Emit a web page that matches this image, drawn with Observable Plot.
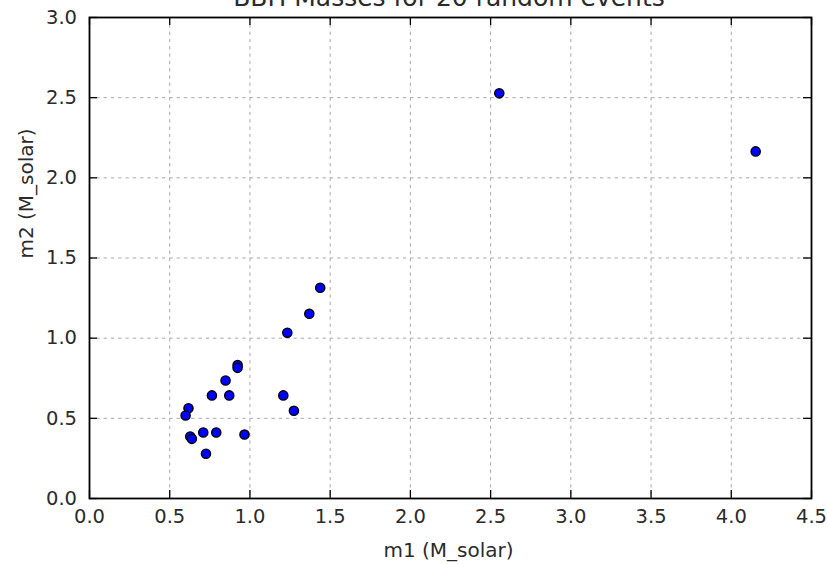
<!DOCTYPE html>
<html>
<head>
<meta charset="utf-8">
<script src="https://cdn.jsdelivr.net/npm/d3@7"></script>
<script src="https://cdn.jsdelivr.net/npm/@observablehq/plot@0.6"></script>
<style>
  html, body { margin: 0; padding: 0; background: #fff; }
  #chart svg { display: block; overflow: visible; }
</style>
</head>
<body>
<div id="chart"></div>
<script>
// Component masses (solar masses) of 20 simulated binary black hole events
const m1 = [2.554, 4.152, 1.438, 1.370, 1.233, 0.923, 0.923, 0.848, 0.763, 0.871,
            1.208, 1.274, 0.617, 0.599, 0.628, 0.638, 0.709, 0.790, 0.966, 0.726];
const m2 = [2.527, 2.165, 1.314, 1.152, 1.034, 0.832, 0.815, 0.736, 0.643, 0.643,
            0.643, 0.547, 0.563, 0.518, 0.387, 0.372, 0.412, 0.412, 0.399, 0.279];

const xTicks = [0, 0.5, 1, 1.5, 2, 2.5, 3, 3.5, 4, 4.5];
const yTicks = [0, 0.5, 1, 1.5, 2, 2.5, 3];

const titleText = "BBH Masses for 20 random events";
const xLabel = "m1 (M_solar)";
const yLabel = "m2 (M_solar)";

const events = m1.map((v, i) => ({m1: v, m2: m2[i]}));

const W = 827, H = 564;
const mL = 89, mR = 16, mT = 17, mB = 66;
const innerW = W - mL - mR, innerH = H - mT - mB;
const tickLen = 8;
const ink = "#2b2b2b";

const gridStyle = {stroke: "#a8a8a8", strokeOpacity: 1, strokeWidth: 1, strokeDasharray: "3.3,4"};
const tickStyle = {stroke: "#000", strokeWidth: 1.3};

const chart = Plot.plot({
  width: W,
  height: H,
  marginLeft: mL,
  marginRight: mR,
  marginTop: mT,
  marginBottom: mB,
  style: {fontFamily: "DejaVu Sans", fontSize: "19.5px", color: ink, background: "#fff"},
  x: {domain: [0, 4.5]},
  y: {domain: [0, 3]},
  marks: [
    Plot.gridX(xTicks, gridStyle),
    Plot.gridY(yTicks, gridStyle),
    // inward tick marks on all four sides
    Plot.tickX(xTicks, {x: d => d, insetTop: innerH - tickLen, ...tickStyle}),
    Plot.tickX(xTicks, {x: d => d, insetBottom: innerH - tickLen, ...tickStyle}),
    Plot.tickY(yTicks, {y: d => d, insetRight: innerW - tickLen, ...tickStyle}),
    Plot.tickY(yTicks, {y: d => d, insetLeft: innerW - tickLen, ...tickStyle}),
    Plot.axisX(xTicks, {tickSize: 0, tickPadding: 11, tickFormat: d3.format(".1f"), label: null, fontSize: 19.5, fill: ink}),
    Plot.axisY(yTicks, {tickSize: 0, tickPadding: 12.5, tickFormat: d3.format(".1f"), label: null, fontSize: 19.5, fill: ink}),
    Plot.dot(events, {x: "m1", y: "m2", r: 4.6, fill: "#0000ff", stroke: "#000", strokeWidth: 1.4}),
    Plot.frame({stroke: "#000", strokeWidth: 1.8}),
    Plot.text([titleText], {frameAnchor: "top", lineAnchor: "middle", dy: -20, dx: -1.5, fontSize: 25, fill: ink}),
    Plot.text([xLabel], {frameAnchor: "bottom", lineAnchor: "middle", dy: 51.6, dx: -2, fontSize: 20, fill: ink}),
    Plot.text([yLabel], {frameAnchor: "left", lineAnchor: "middle", rotate: -90, dx: -63.4, dy: 0.5, fontSize: 20, fill: ink})
  ]
});

document.getElementById("chart").append(chart);
</script>
</body>
</html>
